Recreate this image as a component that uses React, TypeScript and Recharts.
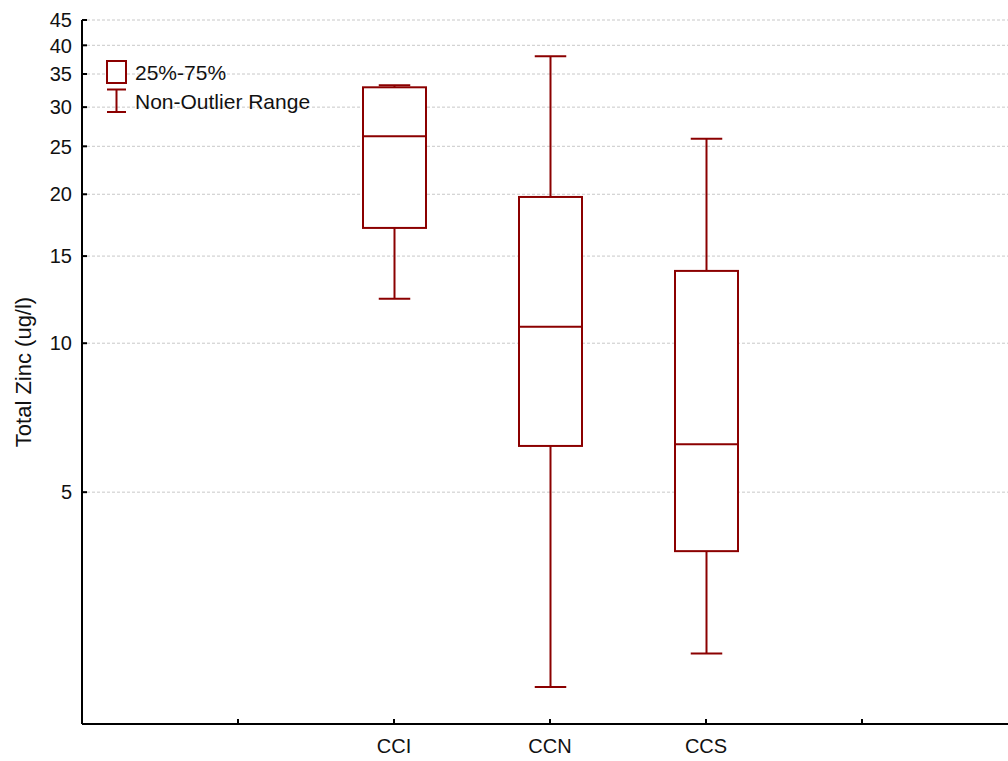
import { ComposedChart, Bar, XAxis, YAxis, CartesianGrid, Legend } from 'recharts';

const categories = ['CCI', 'CCN', 'CCS'];
const whiskerLow = [12.3, 2.02, 2.36];
const q1 = [17.1, 6.2, 3.8];
const median = [26.2, 10.8, 6.25];
const q3 = [32.9, 19.75, 14.0];
const whiskerHigh = [33.2, 38.0, 25.9];
const yTicks = [5, 10, 15, 20, 25, 30, 35, 40, 45];
const yDomain = [1.7, 45];

const RED = '#8B0000';
const FONT = '"Liberation Sans", Arial, sans-serif';

// empty slot on each side so the axis carries the two extra tick marks
const slots = ['padL', ...categories, 'padR'];
const data = slots.map((name) => {
  const i = categories.indexOf(name);
  if (i < 0) return { name, range: null };
  return {
    name,
    range: [whiskerLow[i], whiskerHigh[i]],
    q1: q1[i],
    median: median[i],
    q3: q3[i],
  };
});

function BoxShape(props: any) {
  const { x, y, width, height, payload } = props;
  if (!payload || !payload.range) return null;
  const [lo, hi] = payload.range;
  const top = Math.min(y, y + height);
  const bottom = Math.max(y, y + height);
  // log axis: positions are linear in log(value) between the two ends
  const toY = (v: number) =>
    top + ((bottom - top) * (Math.log(hi) - Math.log(v))) / (Math.log(hi) - Math.log(lo));
  const cx = x + width / 2;
  const cap = width / 4;
  const y1 = toY(payload.q1);
  const y3 = toY(payload.q3);
  const ym = toY(payload.median);
  return (
    <g stroke={RED} strokeWidth={2} fill="none">
      <line x1={cx} x2={cx} y1={top} y2={y3} />
      <line x1={cx} x2={cx} y1={y1} y2={bottom} />
      <line x1={cx - cap} x2={cx + cap} y1={top} y2={top} />
      <line x1={cx - cap} x2={cx + cap} y1={bottom} y2={bottom} />
      <rect x={x} y={y3} width={width} height={y1 - y3} fill="#fff" />
      <line x1={x} x2={x + width} y1={ym} y2={ym} />
    </g>
  );
}

function YTick(props: any) {
  const { x, y, payload } = props;
  return (
    <g>
      <line x1={x + 10} x2={x + 15} y1={y} y2={y} stroke="#000" strokeWidth={2} />
      <text x={x} y={y} dy="0.36em" textAnchor="end" fontSize={20} fontFamily={FONT} fill="#111">
        {payload.value}
      </text>
    </g>
  );
}

function XTick(props: any) {
  const { x, y, payload } = props;
  const label = categories.includes(payload.value) ? payload.value : '';
  return (
    <g>
      <line x1={x} x2={x} y1={y - 16} y2={y - 21} stroke="#000" strokeWidth={2} />
      <text x={x} y={y} dy="0.66em" textAnchor="middle" fontSize={20} fontFamily={FONT} fill="#111">
        {label}
      </text>
    </g>
  );
}

function TopTick(props: any) {
  const { x, y } = props;
  return <line x1={x} x2={x} y1={y} y2={y + 5} stroke="#000" strokeWidth={2} />;
}

function BoxLegend() {
  return (
    <svg width={240} height={60} style={{ display: 'block' }}>
      <rect x={4} y={4} width={19} height={22} fill="#fff" stroke={RED} strokeWidth={2} />
      <line x1={13.5} x2={13.5} y1={32.5} y2={55} stroke={RED} strokeWidth={2} />
      <line x1={4} x2={23} y1={32.5} y2={32.5} stroke={RED} strokeWidth={2} />
      <line x1={4} x2={23} y1={55} y2={55} stroke={RED} strokeWidth={2} />
      <text x={32} y={15} dy="0.36em" fontSize={21} fontFamily={FONT} fill="#111">
        25%-75%
      </text>
      <text x={32} y={44} dy="0.36em" fontSize={21} fontFamily={FONT} fill="#111">
        Non-Outlier Range
      </text>
    </svg>
  );
}

export default function App() {
  return (
    <div style={{ position: 'absolute', left: 0, top: 0, width: 1008, height: 761, overflow: 'hidden', background: '#fff' }}>
      <ComposedChart width={1018} height={761} data={data} margin={{ top: 20, right: 0, bottom: 0, left: 0 }}>
        <CartesianGrid vertical={false} stroke="#c8c8c8" strokeDasharray="3 2" />
        <XAxis
          dataKey="name"
          height={37}
          padding={{ left: 78, right: 78 }}
          axisLine={{ stroke: '#000', strokeWidth: 2 }}
          tickLine={false}
          tickSize={0}
          tickMargin={16}
          tick={<XTick />}
          interval={0}
        />
        <XAxis
          xAxisId="top"
          dataKey="name"
          orientation="top"
          height={0}
          padding={{ left: 78, right: 78 }}
          axisLine={{ stroke: '#000', strokeWidth: 2 }}
          tickLine={false}
          tickSize={0}
          tickMargin={0}
          tick={<TopTick />}
          interval={0}
        />
        <YAxis
          scale="log"
          domain={yDomain}
          ticks={yTicks}
          allowDataOverflow
          width={82}
          axisLine={{ stroke: '#000', strokeWidth: 2 }}
          tickLine={false}
          tickSize={0}
          tickMargin={10}
          tick={<YTick />}
          interval={0}
          label={{
            value: 'Total Zinc (ug/l)',
            angle: -90,
            position: 'insideLeft',
            offset: 23,
            style: { textAnchor: 'middle', fontSize: 22, fontFamily: FONT, fill: '#111' },
          }}
        />
        <Legend
          layout="vertical"
          align="center"
          verticalAlign="middle"
          content={<BoxLegend />}
          wrapperStyle={{ left: 103, top: 57, width: 240 }}
        />
        <Bar dataKey="range" barSize={63} shape={<BoxShape />} isAnimationActive={false} />
      </ComposedChart>
    </div>
  );
}
